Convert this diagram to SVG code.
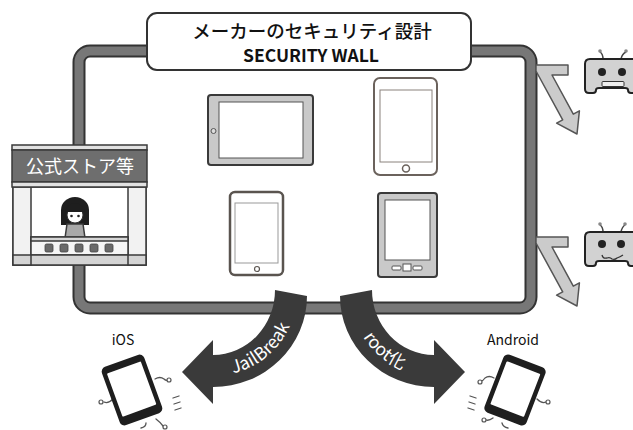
<svg xmlns="http://www.w3.org/2000/svg" width="633" height="430" viewBox="0 0 633 430">
  <style>
    .jp { font-family: "Noto Sans CJK JP", "Noto Sans", sans-serif; }
    .ink { stroke: #3a3a3a; stroke-width: 1.5; }
    .bounce { fill: #cbcbcb; stroke: #555; stroke-width: 1.5; stroke-linejoin: round; }
    .force { fill: #3a3a3a; }
    .limb { fill: none; stroke: #555; stroke-width: 1.3; stroke-linecap: round; }
    .knob { fill: #fff; stroke: #555; stroke-width: 1.2; }
  </style>
  <defs>
    <path id="arcJail" d="M 198.4 374.7 A 84 84 0 0 0 297 292"/>
    <path id="arcRoot" d="M 350.3 299.3 A 84 84 0 0 0 441.3 375.7"/>
    <g id="bounceArrow">
      <path class="bounce" d="M 536 65 H 568 V 75 H 552 L 573.3 114.1 L 579.4 110.8 L 577 134 L 556.6 123.2 L 562.7 119.9 L 536 71 Z"/>
    </g>
  </defs>

  <rect width="633" height="430" fill="#fff"/>

  <!-- the security wall -->
  <g id="wall">
    <rect x="79" y="51" width="452" height="257" rx="11" fill="none" stroke="#333" stroke-width="13"/>
    <rect x="79" y="51" width="452" height="257" rx="11" fill="none" stroke="#777" stroke-width="9"/>
  </g>

  <!-- title plate -->
  <g id="title">
    <rect x="147" y="13" width="324" height="57" rx="10" fill="#fff" stroke="#333" stroke-width="2"/>
    <text class="jp" x="312" y="38" text-anchor="middle" font-size="18.5" font-weight="500" fill="#111">メーカーのセキュリティ設計</text>
    <text class="jp" x="311" y="62" text-anchor="middle" font-size="17.5" font-weight="600" fill="#111">SECURITY WALL</text>
  </g>

  <!-- official store booth -->
  <g id="store">
    <rect x="13" y="187" width="133" height="78" fill="#fff" class="ink"/>
    <rect x="13" y="187" width="18" height="78" fill="#f2f2f2" class="ink"/>
    <rect x="128" y="187" width="18" height="78" fill="#f2f2f2" class="ink"/>
    <!-- clerk -->
    <path d="M 61 225 V 210 A 14 13 0 0 1 89 210 V 225 Z" fill="#1e1e1e"/>
    <path d="M 65 238 L 67 224 H 83 L 85 238 Z" fill="#a8a8a8" class="ink"/>
    <ellipse cx="75" cy="215" rx="8" ry="8" fill="#fff" stroke="#333" stroke-width="1"/>
    <path d="M 65.5 212 A 9.5 9 0 0 1 84.5 212 Z" fill="#1e1e1e"/>
    <circle cx="71.5" cy="216" r="1.3" fill="#222"/>
    <circle cx="78.5" cy="216" r="1.3" fill="#222"/>
    <!-- counter -->
    <rect x="31" y="237" width="97" height="18" fill="#f6f6f6" class="ink"/>
    <rect x="31" y="237" width="97" height="4" fill="#d6d6d6" class="ink"/>
    <rect x="13" y="255" width="133" height="10" fill="#d4d4d4" class="ink"/>
    <line x1="31" y1="255" x2="31" y2="265" class="ink"/>
    <line x1="128" y1="255" x2="128" y2="265" class="ink"/>
    <g fill="#6a6a6a" stroke="#444" stroke-width="0.8">
      <rect x="45" y="244" width="8" height="8" rx="1.5"/>
      <rect x="60" y="244" width="8" height="8" rx="1.5"/>
      <rect x="75" y="244" width="8" height="8" rx="1.5"/>
      <rect x="90" y="244" width="8" height="8" rx="1.5"/>
      <rect x="105" y="244" width="8" height="8" rx="1.5"/>
    </g>
    <!-- sign board -->
    <rect x="12" y="145" width="135" height="5" fill="#e2e2e2" class="ink"/>
    <rect x="12" y="150" width="135" height="32" fill="#6e6e6e" class="ink"/>
    <rect x="12" y="182" width="135" height="5" fill="#e2e2e2" class="ink"/>
    <text class="jp" x="80" y="173" text-anchor="middle" font-size="18" fill="#fff">公式ストア等</text>
  </g>

  <!-- devices inside the wall -->
  <g id="tablet-landscape">
    <rect x="208" y="95" width="105" height="70" rx="3" fill="#c9c9c9" stroke="#3a3a3a" stroke-width="2"/>
    <rect x="219" y="102" width="84" height="56" fill="#fff" stroke="#555" stroke-width="1"/>
    <circle cx="213.5" cy="131" r="2.5" fill="#ddd" stroke="#555" stroke-width="1"/>
  </g>
  <g id="tablet-portrait">
    <rect x="374" y="78" width="63" height="97" rx="6" fill="#fff" stroke="#6b625c" stroke-width="2"/>
    <rect x="380" y="90" width="52" height="72" fill="#fff" stroke="#8a827c" stroke-width="1"/>
    <circle cx="406" cy="168.5" r="3.5" fill="#fff" stroke="#6b625c" stroke-width="1.5"/>
  </g>
  <g id="tablet-small">
    <rect x="230" y="192" width="53" height="83" rx="5" fill="#fff" stroke="#5a544f" stroke-width="2.5"/>
    <rect x="235" y="203" width="43" height="60" fill="#fff" stroke="#999" stroke-width="1"/>
    <circle cx="257" cy="269" r="2.5" fill="#fff" stroke="#5a544f" stroke-width="1.2"/>
  </g>
  <g id="ereader">
    <rect x="378" y="193" width="59" height="84" rx="3" fill="#c9c9c9" stroke="#3a3a3a" stroke-width="2"/>
    <rect x="385" y="200" width="45" height="60" fill="#fff" stroke="#555" stroke-width="1"/>
    <rect x="403" y="264" width="8" height="7" fill="#fff" stroke="#555" stroke-width="1"/>
    <rect x="392" y="266" width="9" height="4" rx="1" fill="#fff" stroke="#555" stroke-width="1"/>
    <rect x="413" y="266" width="9" height="4" rx="1" fill="#fff" stroke="#555" stroke-width="1"/>
  </g>

  <!-- malware bots -->
  <g id="bot-1">
    <path d="M 590 59 H 634 Q 639 59 639 64 V 89 Q 639 93 635 93 H 631 Q 628 93 628 90 Q 628 88 625 88 H 599 Q 596 88 596 90 Q 596 93 593 93 H 589 Q 585 93 585 89 V 64 Q 585 59 590 59 Z" fill="#fff" stroke="#fff" stroke-width="5"/>
    <path d="M 603 59 Q 603 54 600 52 M 621 59 Q 622 54 626 52" fill="none" stroke="#444" stroke-width="1.5"/>
    <circle cx="600" cy="51" r="1.8" fill="#888"/>
    <circle cx="626" cy="51" r="1.8" fill="#888"/>
    <path d="M 590 59 H 634 Q 639 59 639 64 V 89 Q 639 93 635 93 H 631 Q 628 93 628 90 Q 628 88 625 88 H 599 Q 596 88 596 90 Q 596 93 593 93 H 589 Q 585 93 585 89 V 64 Q 585 59 590 59 Z" fill="#d2d2d2" stroke="#222" stroke-width="2"/>
    <circle cx="602" cy="72" r="4" fill="#222"/>
    <circle cx="622" cy="72" r="4" fill="#222"/>
    <rect x="602" y="81.5" width="22" height="5" rx="1" fill="#eee" stroke="#333" stroke-width="1"/>
  </g>
  <g id="bot-2">
    <path d="M 590 232 H 634 Q 639 232 639 237 V 262 Q 639 266 635 266 H 631 Q 628 266 628 263 Q 628 261 625 261 H 599 Q 596 261 596 263 Q 596 266 593 266 H 589 Q 585 266 585 262 V 237 Q 585 232 590 232 Z" fill="#fff" stroke="#fff" stroke-width="5"/>
    <path d="M 603 232 Q 603 227 600 225 M 621 232 Q 622 227 625 225" fill="none" stroke="#444" stroke-width="1.5"/>
    <circle cx="600" cy="224" r="1.8" fill="#888"/>
    <circle cx="625" cy="224" r="1.8" fill="#888"/>
    <path d="M 590 232 H 634 Q 639 232 639 237 V 262 Q 639 266 635 266 H 631 Q 628 266 628 263 Q 628 261 625 261 H 599 Q 596 261 596 263 Q 596 266 593 266 H 589 Q 585 266 585 262 V 237 Q 585 232 590 232 Z" fill="#d2d2d2" stroke="#222" stroke-width="2"/>
    <circle cx="602" cy="244" r="4" fill="#222"/>
    <circle cx="621" cy="244" r="4" fill="#222"/>
    <path d="M 602 255 Q 603 259 607 258 Q 610 257 612 259 Q 615 260 617 258 Q 620 257 623 255" fill="none" stroke="#333" stroke-width="1.3"/>
  </g>

  <!-- arrows -->
  <g id="connectors">
    <use href="#bounceArrow"/>
    <use href="#bounceArrow" transform="translate(0,172)"/>
    <path class="force" d="M 275 290 L 307 296 A 94 91 0 0 1 213 387 L 213 404 L 182 372 L 213 340 L 213 355 A 62 65 0 0 0 275 290 Z"/>
    <path class="force" d="M 372 290 L 340 296 A 94 91 0 0 0 434 387 L 434 404 L 465 372 L 434 340 L 434 355 A 62 65 0 0 1 372 290 Z"/>
    <text class="jp" font-size="17.5" fill="#fff"><textPath href="#arcJail" startOffset="50%" text-anchor="middle">JailBreak</textPath></text>
    <text class="jp" font-size="17.5" fill="#fff"><textPath href="#arcRoot" startOffset="50%" text-anchor="middle">root化</textPath></text>
  </g>

  <!-- unlocked handsets -->
  <g id="phone-ios">
    <text class="jp" x="123" y="345" text-anchor="middle" font-size="14" fill="#111">iOS</text>
    <path class="limb" d="M 155 379 Q 160 376 164 379 Q 166 381 168 380"/>
    <circle class="knob" cx="169" cy="380" r="2"/>
    <path class="limb" d="M 113 399 Q 108 404 104 402"/>
    <circle class="knob" cx="101" cy="402" r="2"/>
    <path class="limb" d="M 156 419 Q 160 422 163 426"/>
    <circle class="knob" cx="165" cy="427" r="2"/>
    <path class="limb" d="M 146 423 Q 146 427 141 428"/>
    <g transform="translate(132,390) rotate(-20)">
      <rect x="-22.5" y="-31" width="45" height="62" rx="5" fill="#1e1e1e"/>
      <rect x="-18" y="-24" width="36" height="46" rx="1" fill="#fff"/>
    </g>
    <path class="limb" d="M 173 398 L 179 396 M 174 404 L 180 402 M 175 410 L 181 408"/>
  </g>
  <g id="phone-android">
    <text class="jp" x="513" y="345" text-anchor="middle" font-size="14" fill="#111">Android</text>
    <path class="limb" d="M 494 378 Q 489 375 485 378 Q 483 381 481 381"/>
    <circle class="knob" cx="480" cy="382" r="2"/>
    <path class="limb" d="M 537 399 Q 542 404 546 402"/>
    <circle class="knob" cx="548" cy="402" r="2"/>
    <path class="limb" d="M 493 418 Q 489 421 486 420"/>
    <circle class="knob" cx="484" cy="420" r="2"/>
    <path class="limb" d="M 502 423 Q 503 427 508 428"/>
    <g transform="translate(515,390) rotate(21)">
      <rect x="-22.5" y="-31" width="45" height="62" rx="5" fill="#1e1e1e"/>
      <rect x="-18" y="-24" width="36" height="46" rx="1" fill="#fff"/>
    </g>
    <path class="limb" d="M 476 398 L 470 396 M 475 404 L 469 402 M 474 410 L 468 408"/>
  </g>
</svg>
